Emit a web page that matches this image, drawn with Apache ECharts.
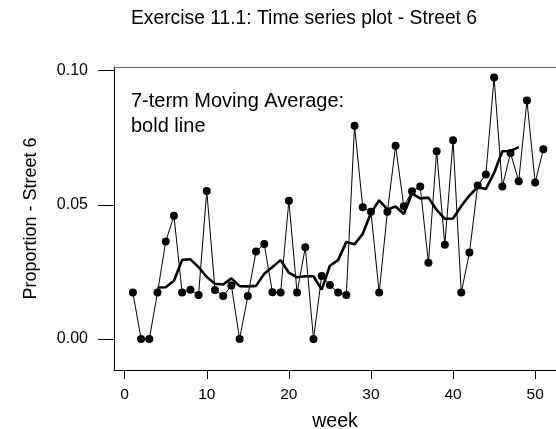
<!DOCTYPE html>
<html>
<head>
<meta charset="utf-8">
<script src="https://cdn.jsdelivr.net/npm/echarts@6/dist/echarts.min.js"></script>
<style>
  html, body { margin: 0; padding: 0; background: #fff; }
  #chart { width: 556px; height: 429px; }
</style>
</head>
<body>
<div id="chart"></div>
<script>
// Weekly proportion for Street 6, weeks 1..51
const weeks = [1,2,3,4,5,6,7,8,9,10,11,12,13,14,15,16,17,18,19,20,21,22,23,24,25,26,
  27,28,29,30,31,32,33,34,35,36,37,38,39,40,41,42,43,44,45,46,47,48,49,50,51];
const proportion = [
  0.0173, 0.0000, 0.0000, 0.0173, 0.0363, 0.0459, 0.0173, 0.0184, 0.0164, 0.0552,
  0.0183, 0.0160, 0.0199, 0.0000, 0.0160, 0.0326, 0.0354, 0.0174, 0.0173, 0.0515,
  0.0173, 0.0342, 0.0000, 0.0235, 0.0201, 0.0173, 0.0164, 0.0795, 0.0491, 0.0474,
  0.0173, 0.0474, 0.0720, 0.0495, 0.0551, 0.0568, 0.0284, 0.0700, 0.0351, 0.0741,
  0.0173, 0.0322, 0.0572, 0.0613, 0.0975, 0.0568, 0.0693, 0.0588, 0.0889, 0.0583,
  0.0707
];
// Centred 7-term moving average, weeks 4..48
const maWeeks = [4,5,6,7,8,9,10,11,12,13,14,15,16,17,18,19,20,21,22,23,24,25,26,
  27,28,29,30,31,32,33,34,35,36,37,38,39,40,41,42,43,44,45,46,47,48];
const movingAvg = [
  0.0192, 0.0193, 0.0217, 0.0295, 0.0297, 0.0268, 0.0231, 0.0206, 0.0203, 0.0226,
  0.0197, 0.0196, 0.0198, 0.0243, 0.0268, 0.0294, 0.0247, 0.0230, 0.0234, 0.0234,
  0.0184, 0.0273, 0.0294, 0.0362, 0.0353, 0.0392, 0.0470, 0.0517, 0.0483, 0.0494,
  0.0466, 0.0542, 0.0524, 0.0527, 0.0481, 0.0448, 0.0449, 0.0496, 0.0535, 0.0566,
  0.0559, 0.0619, 0.0700, 0.0701, 0.0715
];
const xTicks = [0, 10, 20, 30, 40, 50];
const yTicks = [0, 0.05, 0.10];

const FONT = 'Liberation Sans, Arial, sans-serif';

const chart = echarts.init(document.getElementById('chart'), null, { renderer: 'canvas' });

chart.setOption({
  animation: false,
  backgroundColor: '#ffffff',
  title: {
    text: 'Exercise 11.1: Time series plot - Street 6',
    left: 299, top: 4, textAlign: 'center',
    textStyle: { fontFamily: FONT, fontSize: 19.3, fontWeight: 'normal', color: '#000' }
  },
  // Plot frame: left and bottom axis lines plus a top line; the right side runs off the canvas
  grid: {
    left: 114, top: 67, right: 0, bottom: 59, show: false,
    outerBoundsMode: 'none', containLabel: false
  },
  xAxis: [
    {
      type: 'value', min: -1.3, max: 52.54,
      name: 'week', nameLocation: 'middle', nameGap: 42,
      nameTextStyle: { fontFamily: FONT, fontSize: 19.5, color: '#000' },
      axisLine: { show: true, onZero: false, lineStyle: { color: '#000', width: 1 } },
      axisTick: { show: true, length: 9, lineStyle: { color: '#000' }, customValues: xTicks },
      axisLabel: { fontFamily: FONT, fontSize: 15.5, color: '#000', margin: 17, customValues: xTicks },
      splitLine: { show: false }
    },
    {
      type: 'value', position: 'top', min: -1.3, max: 52.54,
      axisLine: { show: true, onZero: false, lineStyle: { color: '#666', width: 1 } },
      axisTick: { show: false }, axisLabel: { show: false }, splitLine: { show: false }
    }
  ],
  yAxis: {
    type: 'value', min: -0.01155, max: 0.10138,
    name: 'Proportion - Street 6', nameLocation: 'middle', nameGap: 74, nameRotate: 90,
    nameTextStyle: { fontFamily: FONT, fontSize: 18, color: '#000' },
    axisLine: { show: true, onZero: false, lineStyle: { color: '#000', width: 1 } },
    axisTick: { show: true, length: 16, lineStyle: { color: '#000' }, customValues: yTicks },
    axisLabel: {
      fontFamily: FONT, fontSize: 16, color: '#000', margin: 26,
      customValues: yTicks,
      formatter: v => v.toFixed(2)
    },
    splitLine: { show: false }
  },
  graphic: [{
    type: 'text', left: 131, top: 89, z: 10,
    style: {
      text: '7-term Moving Average:\nbold line',
      fontFamily: FONT, fontSize: 20, lineHeight: 25, fill: '#000'
    }
  }],
  series: [
    {
      name: 'Proportion', type: 'line',
      data: weeks.map((w, i) => [w, proportion[i]]),
      symbol: 'circle', symbolSize: 8, showSymbol: true,
      itemStyle: { color: '#000' },
      lineStyle: { color: '#000', width: 1 },
      z: 3
    },
    {
      name: '7-term Moving Average', type: 'line',
      data: maWeeks.map((w, i) => [w, movingAvg[i]]),
      symbol: 'none',
      lineStyle: { color: '#000', width: 2.6 },
      z: 4
    }
  ]
});
</script>
</body>
</html>
